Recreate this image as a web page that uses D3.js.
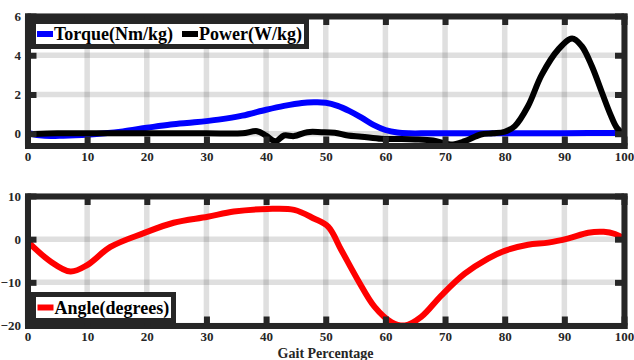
<!DOCTYPE html>
<html>
<head>
<meta charset="utf-8">
<script src="https://cdn.jsdelivr.net/npm/d3@7"></script>
<style>
  body { margin: 0; background: #fff; }
  svg { display: block; }
</style>
</head>
<body>
<div id="chart"></div>
<script>
// x axis ticks shared by both panels
var gaitTicks = [0, 10, 20, 30, 40, 50, 60, 70, 80, 90, 100];

// top panel: torque and power
var torqueX = [0, 2, 4, 6, 8, 10, 13, 16, 20, 24, 28, 32, 36, 40, 43, 46, 48, 50, 52, 54, 56, 58, 60, 62, 64, 67, 70, 80, 90, 100];
var torqueY = [0.05, -0.08, -0.12, -0.1, -0.08, -0.05, 0.02, 0.12, 0.3, 0.47, 0.58, 0.72, 0.92, 1.22, 1.42, 1.57, 1.6, 1.58, 1.42, 1.15, 0.82, 0.45, 0.19, 0.06, 0.02, 0.02, 0.02, 0.02, 0.03, 0.04];
var powerX = [1, 5, 10, 20, 30, 36, 38.5, 40, 41.6, 43, 44.7, 46.9, 49.3, 51.5, 53.7, 56, 59.3, 62, 65, 68, 71, 73.3, 76, 78, 80, 81.7, 83.9, 86.2, 89, 91.3, 92.9, 94.6, 96.3, 97.7, 98.8, 100];
var powerY = [-0.02, 0.02, 0.02, 0.02, 0.02, 0.02, 0.13, -0.1, -0.38, -0.09, -0.12, 0.08, 0.08, 0.05, -0.09, -0.15, -0.26, -0.27, -0.29, -0.35, -0.55, -0.38, -0.04, 0.02, 0.1, 0.39, 1.4, 3.0, 4.3, 4.85, 4.47, 3.45, 2.1, 1.0, 0.3, -0.03];
var topTicks = [0, 2, 4, 6];

// bottom panel: angle
var angleX = [0, 3.8, 7.2, 10, 13.9, 19.5, 24.5, 30.2, 34.6, 40.2, 44.7, 48, 50.4, 52.6, 55.4, 58.2, 61, 63.3, 66, 69.4, 73.3, 77.2, 80, 83.9, 87.3, 90.7, 94, 96.6, 98.5, 100];
var angleY = [-0.5, -5.1, -7.5, -6.0, -1.8, 1.4, 3.8, 5.2, 6.4, 7.0, 6.8, 4.8, 2.9, -2.5, -9.5, -15.7, -19.2, -20, -18, -13, -8, -4.5, -2.7, -1.3, -0.8, 0.2, 1.5, 1.7, 1.2, 0.2];
var bottomTicks = [-20, -10, 0, 10];

var frameColor = "#262626";
var serif = "'Liberation Serif', 'Times New Roman', Times, serif";

var svg = d3.select("#chart")
    .append("svg")
    .attr("width", 634)
    .attr("height", 360);

svg.append("rect").attr("width", 634).attr("height", 360).attr("fill", "#fff");

var x = d3.scaleLinear().domain([0, 100]).range([27.5, 624]);

function zip(xs, ys) {
    return xs.map(function (d, i) { return [d, ys[i]]; });
}

function drawPanel(y, yTicks, series) {
    var x0 = x.range()[0], x1 = x.range()[1];
    var yTop = y.range()[1], yBot = y.range()[0];
    var g = svg.append("g");

    //grid lines, MATLAB style with alpha so crossings look darker
    g.selectAll(".vgrid")
        .data(gaitTicks)
        .enter()
        .append("line")
        .attr("x1", function (d) { return x(d); })
        .attr("x2", function (d) { return x(d); })
        .attr("y1", yTop)
        .attr("y2", yBot)
        .attr("stroke", frameColor)
        .attr("stroke-opacity", 0.15)
        .attr("stroke-width", 5.5);
    g.selectAll(".hgrid")
        .data(yTicks)
        .enter()
        .append("line")
        .attr("y1", function (d) { return y(d); })
        .attr("y2", function (d) { return y(d); })
        .attr("x1", x0)
        .attr("x2", x1)
        .attr("stroke", frameColor)
        .attr("stroke-opacity", 0.15)
        .attr("stroke-width", 5.5);

    //data lines
    var line = d3.line()
        .x(function (d) { return x(d[0]); })
        .y(function (d) { return y(d[1]); })
        .curve(d3.curveCatmullRom);
    series.forEach(function (s) {
        g.append("path")
            .datum(s.data)
            .attr("d", line)
            .attr("fill", "none")
            .attr("stroke", s.color)
            .attr("stroke-width", 6)
            .attr("stroke-linejoin", "round");
    });

    //box with inward ticks on all four sides
    function styleAxis(sel) {
        sel.attr("font-family", null).attr("font-size", null);
        sel.selectAll("path.domain")
            .attr("stroke", frameColor)
            .attr("stroke-width", 6)
            .attr("stroke-linecap", "square");
        sel.selectAll(".tick line")
            .attr("stroke", frameColor)
            .attr("stroke-width", 6);
        sel.selectAll(".tick text")
            .attr("fill", frameColor)
            .style("font-family", serif)
            .style("font-weight", "bold")
            .style("font-size", "13px");
    }
    var fmt = d3.format("d");
    g.append("g")
        .attr("transform", "translate(0," + yBot + ")")
        .call(d3.axisBottom(x).tickValues(gaitTicks).tickSize(-9).tickSizeOuter(0).tickPadding(6).tickFormat(fmt))
        .call(styleAxis);
    g.append("g")
        .attr("transform", "translate(0," + yTop + ")")
        .call(d3.axisTop(x).tickValues(gaitTicks).tickSize(-9).tickSizeOuter(0).tickFormat(""))
        .call(styleAxis);
    g.append("g")
        .attr("transform", "translate(" + x0 + ",0)")
        .call(d3.axisLeft(y).tickValues(yTicks).tickSize(-9).tickSizeOuter(0).tickPadding(6.5).tickFormat(fmt))
        .call(styleAxis);
    g.append("g")
        .attr("transform", "translate(" + x1 + ",0)")
        .call(d3.axisRight(y).tickValues(yTicks).tickSize(-9).tickSizeOuter(0).tickFormat(""))
        .call(styleAxis);
    return g;
}

function drawLegend(box, entries) {
    var lg = svg.append("g");
    lg.append("rect")
        .attr("x", box.x)
        .attr("y", box.y)
        .attr("width", box.w)
        .attr("height", box.h)
        .attr("fill", "#fff")
        .attr("stroke", frameColor)
        .attr("stroke-width", 5);
    var cy = box.y + box.h / 2;
    entries.forEach(function (e) {
        lg.append("line")
            .attr("x1", e.x)
            .attr("x2", e.x + 16)
            .attr("y1", cy)
            .attr("y2", cy)
            .attr("stroke", e.color)
            .attr("stroke-width", 6);
        lg.append("text")
            .attr("x", e.x + 17)
            .attr("y", cy)
            .attr("dy", "0.35em")
            .attr("fill", "#000")
            .style("font-family", serif)
            .style("font-weight", "bold")
            .style("font-size", "18px")
            .text(e.label);
    });
}

var yTop = d3.scaleLinear().domain([-0.6, 6]).range([145.5, 16]);
drawPanel(yTop, topTicks, [
    {data: zip(torqueX, torqueY), color: "#0000ff"},
    {data: zip(powerX, powerY), color: "#000000"}
]);
drawLegend({x: 33.5, y: 21.5, w: 273, h: 25}, [
    {x: 37, color: "#0000ff", label: "Torque(Nm/kg)"},
    {x: 182, color: "#000000", label: "Power(W/kg)"}
]);

var yBottom = d3.scaleLinear().domain([-20, 10]).range([325.5, 196]);
drawPanel(yBottom, bottomTicks, [
    {data: zip(angleX, angleY), color: "#ff0000"}
]);
drawLegend({x: 33.5, y: 294.5, w: 140, h: 26}, [
    {x: 37.5, color: "#ff0000", label: "Angle(degrees)"}
]);

svg.append("text")
    .attr("x", 325.5)
    .attr("y", 358)
    .attr("text-anchor", "middle")
    .attr("fill", frameColor)
    .style("font-family", serif)
    .style("font-weight", "bold")
    .style("font-size", "14px")
    .text("Gait Percentage");
</script>
</body>
</html>
